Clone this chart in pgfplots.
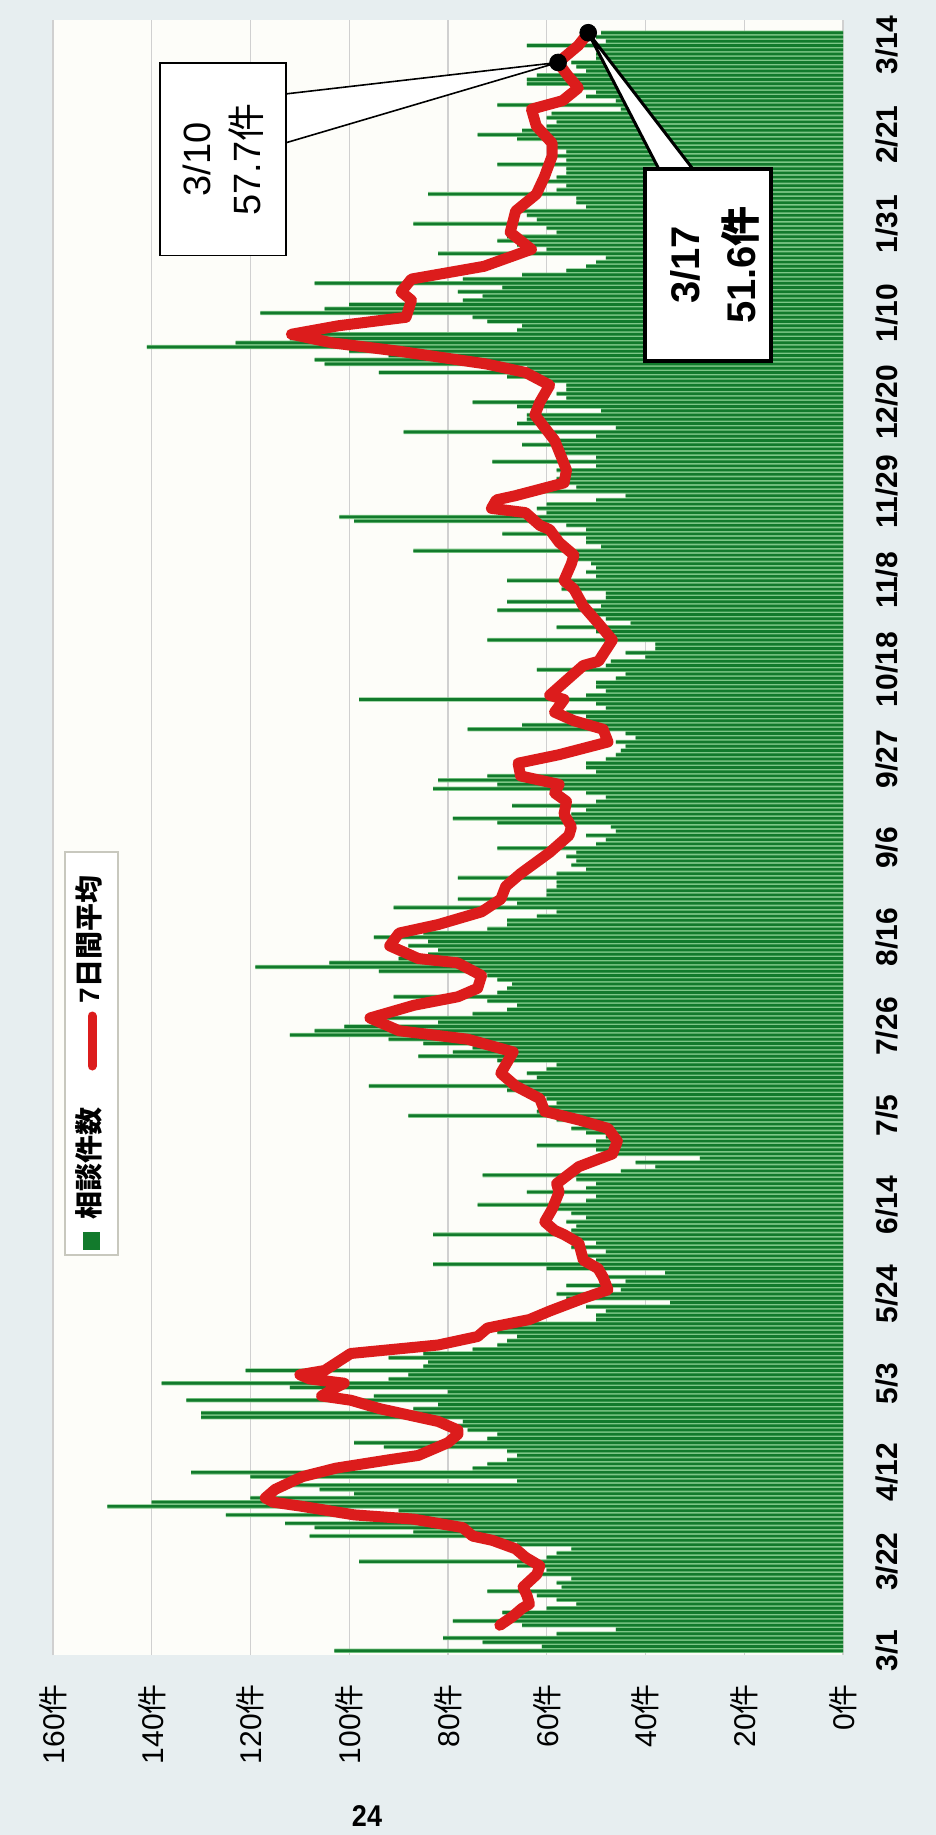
\documentclass[border=0pt]{standalone}
\usepackage{fontspec}
\setmainfont{Liberation Sans}
\newfontfamily\cjk{Noto Sans CJK JP}
\usepackage{pgfplots}
\pgfplotsset{compat=1.18}
\usepackage{pgfplotstable}

\definecolor{pagebg}{RGB}{231,238,240}
\definecolor{plotbg}{RGB}{253,253,249}
\definecolor{bardark}{RGB}{18,122,44}
\definecolor{barlight}{RGB}{125,198,135}
\definecolor{avgred}{RGB}{220,28,28}
\definecolor{gridc}{RGB}{208,208,208}

\pgfplotstableread{
day count
0 103
1 61
2 73
3 81
4 58
5 46
6 65
7 79
8 66
9 69
10 60
11 54
12 58
13 62
14 72
15 57
16 58
17 55
18 62
19 60
20 66
21 98
22 60
23 58
24 55
25 66
26 70
27 108
28 87
29 107
30 113
31 95
32 125
33 90
34 149
35 140
36 120
37 99
38 106
39 115
40 66
41 120
42 132
43 75
44 72
45 68
46 66
47 68
48 93
49 99
50 72
51 70
52 76
53 78
54 77
55 130
56 130
57 87
58 82
59 133
60 95
61 80
62 112
63 138
64 92
65 88
66 121
67 85
68 84
69 92
70 85
71 75
72 70
73 68
74 66
75 70
76 70
77 66
78 50
79 50
80 48
81 52
82 35
83 56
84 58
85 45
86 56
87 44
88 48
89 36
90 60
91 83
92 50
93 52
94 48
95 55
96 50
97 54
98 83
99 55
100 54
101 56
102 52
103 55
104 58
105 74
106 52
107 50
108 64
109 52
110 50
111 54
112 73
113 45
114 38
115 42
116 29
117 48
118 50
119 62
120 50
121 48
122 52
123 55
124 50
125 58
126 88
127 62
128 60
129 58
130 60
131 62
132 68
133 96
134 66
135 62
136 64
137 60
138 58
139 70
140 86
141 79
142 75
143 85
144 92
145 112
146 107
147 101
148 82
149 96
150 75
151 68
152 66
153 72
154 91
155 70
156 68
157 67
158 70
159 72
160 94
161 119
162 104
163 90
164 84
165 82
166 88
167 84
168 95
169 85
170 72
171 68
172 68
173 62
174 58
175 91
176 66
177 78
178 60
179 60
180 58
181 58
182 78
183 58
184 52
185 55
186 54
187 56
188 54
189 70
190 50
191 48
192 52
193 46
194 47
195 70
196 79
197 55
198 52
199 67
200 50
201 48
202 52
203 83
204 70
205 82
206 72
207 50
208 52
209 52
210 48
211 46
212 45
213 44
214 46
215 42
216 44
217 76
218 65
219 55
220 52
221 56
222 48
223 50
224 98
225 52
226 48
227 50
228 50
229 46
230 44
231 62
232 48
233 47
234 40
235 44
236 38
237 38
238 72
239 48
240 50
241 58
242 43
243 48
244 50
245 70
246 49
247 68
248 48
249 48
250 57
251 57
252 68
253 50
254 52
255 50
256 51
257 55
258 55
259 87
260 49
261 52
262 52
263 69
264 52
265 56
266 99
267 102
268 60
269 62
270 60
271 50
272 44
273 66
274 54
275 56
276 58
277 56
278 58
279 50
280 71
281 50
282 58
283 57
284 65
285 58
286 50
287 89
288 46
289 66
290 64
291 64
292 49
293 66
294 75
295 56
296 58
297 56
298 56
299 62
300 68
301 94
302 64
303 105
304 107
305 92
306 100
307 141
308 123
309 112
310 107
311 66
312 65
313 72
314 75
315 118
316 105
317 100
318 77
319 73
320 78
321 69
322 107
323 77
324 65
325 56
326 52
327 50
328 48
329 82
330 60
331 66
332 70
333 68
334 58
335 60
336 87
337 62
338 64
339 65
340 52
341 54
342 54
343 84
344 58
345 56
346 60
347 58
348 56
349 56
350 70
351 56
352 58
353 56
354 58
355 58
356 66
357 74
358 65
359 60
360 58
361 60
362 59
363 45
364 70
365 46
366 52
367 50
368 53
369 64
370 64
371 62
372 52
373 54
374 55
375 50
376 50
377 50
378 64
379 48
380 50
381 49
}\bars

\pgfplotstableread{
day avg
6 69.5
8 67
10 65
11 63.5
13 64
15 64.8
18 62
20 61.4
22 64.3
24 66.3
26 71
27 75
29 77
31 87
32 99
34 109.5
35 115.4
36 117
38 115
41 109.5
43 102.7
45 91.8
46 86
47 84
48 82
49 80
51 78
52 78
54 82
57 93.8
59 99.7
60 105.6
62 102.7
63 101
64 108
65 110
66 105
70 99.7
72 82
74 74
76 72
78 63.5
80 59.4
83 52.6
85 47.6
88 48.6
90 49.6
92 52.6
96 53.5
98 56.5
99 58.4
101 60.4
104 58.9
108 57.5
110 58
114 53.5
117 46.7
120 45.7
123 47.6
125 53.5
127 60.4
130 61.4
133 66.3
136 69.3
140 67.3
141 66.8
144 76
146 89.9
149 95.8
152 86.9
154 78
156 74
159 73.2
162 78.1
163 86
166 91.8
169 89.9
171 82
174 73.2
177 69.3
180 68.3
183 65.3
188 59.4
192 55.5
194 55
197 56.5
200 56
202 58.4
204 57.5
206 65.3
209 65.8
211 57.5
214 47.6
217 48.6
219 54.5
221 58.4
224 56.5
225 59.4
228 56.5
232 52.6
233 49.5
238 46.7
242 49.6
246 52.6
250 54.5
252 56.5
256 55
258 54.5
261 57.5
264 59.4
265 61.4
268 64.3
269 71.2
271 70.2
272 66.3
275 56.5
278 56
281 57
285 58.4
288 60.4
291 62.4
294 61.4
298 59.4
301 64.3
303 72.2
306 89.9
308 103.6
310 111.7
312 102.2
314 88.5
318 87.4
320 89.5
323 87.4
326 72.7
330 63.1
334 67.4
339 66.3
343 62.1
347 60.5
352 58.9
355 58.9
359 62.1
363 63.1
365 56.8
368 53.6
371 55.8
374 57.7
378 53.6
381 51.6
}\avg

\begin{document}
\begin{tikzpicture}
\fill[pagebg] (0,0) rectangle (468pt,-917.5pt);
\begin{axis}[
  at={(26.5pt,-10pt)}, anchor=north west,
  width=395pt, height=817.5pt, scale only axis,
  x dir=reverse, xmin=0, xmax=160,
  ymin=-1, ymax=384,
  axis background/.style={fill=plotbg},
  axis line style={draw=none},
  tick style={draw=none},
  major tick length=0pt,
  xmajorgrids, grid style={gridc, line width=0.6pt},
  xtick={0,20,...,160},
  xticklabels={0{\cjk 件},20{\cjk 件},40{\cjk 件},60{\cjk 件},80{\cjk 件},100{\cjk 件},120{\cjk 件},140{\cjk 件},160{\cjk 件}},
  xticklabel style={rotate=90, anchor=east, font=\fontsize{15}{18}\selectfont},
  xticklabel shift=11pt,
  ytick={0,21,...,378},
  yticklabels={3/1,3/22,4/12,5/3,5/24,6/14,7/5,7/26,8/16,9/6,9/27,10/18,11/8,11/29,12/20,1/10,1/31,2/21,3/14},
  yticklabel pos=right,
  yticklabel style={rotate=90, anchor=north, font=\bfseries\fontsize{15}{17}\selectfont},
  yticklabel shift=13pt,
]
\addplot[xbar, bar width=1, bar shift=0pt, fill=barlight, draw=none] table[x=count, y=day] {\bars};
\addplot[xbar, bar width=0.62, bar shift=0pt, fill=bardark, draw=none] table[x=count, y=day] {\bars};
\addplot[avgred, line width=5.5pt, line join=round, line cap=round] table[x=avg, y=day] {\avg};

% callout 1
\fill[white] (axis cs:112.8,366.6) -- (axis cs:57.7,374) -- (axis cs:112.8,355.1) -- cycle;
\draw[black, line width=0.8pt] (axis cs:112.8,366.6) -- (axis cs:57.7,374) -- (axis cs:112.8,355.1);
\draw[black, line width=0.8pt, fill=white] (axis cs:138.3,373.9) rectangle (axis cs:112.8,328.5);
\node[rotate=90, align=center, font=\fontsize{19}{25}\selectfont] at (axis cs:125.5,351.2) {3/10\\57.7{\cjk 件}};

% callout 2
\fill[white] (axis cs:37.3,348.9) -- (axis cs:51.6,381) -- (axis cs:30.4,348.9) -- cycle;
\draw[black, line width=1.5pt, line join=round] (axis cs:37.3,348.9) -- (axis cs:51.6,381) -- (axis cs:30.4,348.9);
\draw[black, line width=2pt, fill=white] (axis cs:40.0,348.9) rectangle (axis cs:14.6,303.8);
\node[rotate=90, align=center, font=\bfseries\fontsize{20}{28}\selectfont] at (axis cs:26.0,326.3) {3/17\\51.6{\cjk\bfseries 件}};

\addplot[only marks, mark=*, mark size=4.2pt, black] coordinates {(57.7,374) (51.6,381)};
\end{axis}

% legend
\draw[fill=white, draw={rgb,255:red,200;green,200;blue,190}, line width=0.6pt] (32.5pt,-426pt) rectangle (59pt,-627.5pt);
\fill[bardark] (41.5pt,-616pt) rectangle (50pt,-625pt);
\node[rotate=90, font=\fontsize{14}{16}\selectfont] at (44.5pt,-581.5pt) {\cjk\bfseries 相談件数};
\draw[avgred, line width=4.5pt, line cap=round] (46pt,-508pt) -- (46pt,-533pt);
\node[rotate=90, font=\fontsize{14}{16}\selectfont] at (44.5pt,-469.75pt) {\bfseries 7{\cjk\bfseries 日間平均}};

% page number
\node[font=\bfseries\fontsize{15}{18}\selectfont, xscale=0.9] at (183.5pt,-908pt) {24};

\pgfresetboundingbox
\useasboundingbox (0,0) rectangle (468pt,-917.5pt);
\end{tikzpicture}
\end{document}
